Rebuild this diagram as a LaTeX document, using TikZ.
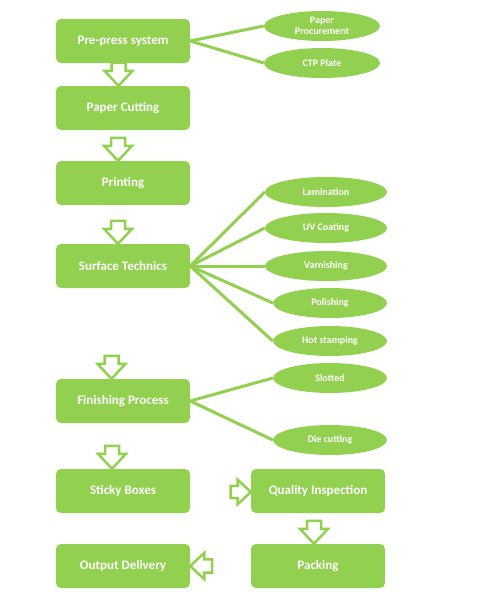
\documentclass[tikz,border=0pt]{standalone}
\usepackage{fontspec}
\setmainfont{Carlito}
\usetikzlibrary{shapes.geometric,calc,backgrounds}
\definecolor{leaf}{HTML}{92D050}

\begin{document}
\begin{tikzpicture}[x=1pt,y=1pt,
		stage/.style={fill=leaf, rounded corners=5pt, minimum width=134pt, minimum height=44pt,
			text=white, font=\bfseries\fontsize{13}{15}\selectfont},
		option/.style={ellipse, fill=leaf, inner sep=0pt, minimum height=30pt,
			text=white, align=center, font=\bfseries\fontsize{10}{11}\selectfont},
		link/.style={leaf, line width=3pt},
		hollow/.pic={\draw[leaf, line width=2.5pt, fill=white, line join=miter]
			(0,0) -- (14,15) -- (7,15) -- (7,23) -- (-7,23) -- (-7,15) -- (-14,15) -- cycle;}
	]
	
	\useasboundingbox (0,0) rectangle (496,-614);
	
	% main stages
	\node[stage] (pre) at (123,-41) {Pre-press system};
	\node[stage] (cut) at (123,-108) {Paper Cutting};
	\node[stage] (prn) at (123,-183) {Printing};
	\node[stage] (surf) at (123,-266) {Surface Technics};
	\node[stage] (fin) at (123,-401) {Finishing Process};
	\node[stage] (sticky) at (123,-491) {Sticky Boxes};
	\node[stage] (qual) at (318,-491) {Quality Inspection};
	\node[stage] (pack) at (318,-566) {Packing};
	\node[stage] (out) at (123,-566) {Output Delivery};
	
	% side options
	\node[option, minimum width=116pt] (proc) at (322,-26) {Paper\\Procurement};
	\node[option, minimum width=116pt] (ctp) at (322,-63) {CTP Plate};
	\node[option, minimum width=122pt] (lam) at (326,-192) {Lamination};
	\node[option, minimum width=122pt] (uv) at (326,-228) {UV Coating};
	\node[option, minimum width=122pt] (varn) at (326,-266) {Varnishing};
	\node[option, minimum width=114pt] (pol) at (330,-303) {Polishing};
	\node[option, minimum width=114pt] (hot) at (330,-341) {Hot stamping};
	\node[option, minimum width=114pt] (slot) at (330,-378) {Slotted};
	\node[option, minimum width=114pt] (die) at (330,-440) {Die cutting};
	
	% links to options, behind the ellipses
	\begin{scope}[on background layer]
		\fill[white] (0,0) rectangle (496,-614);
		\foreach \a/\b in {pre/proc, pre/ctp, surf/lam, surf/uv, surf/varn, surf/pol, surf/hot, fin/slot, fin/die}
		\draw[link] (\a.east) -- (\b.west);
	\end{scope}
	
	% hollow block arrows
	\pic at ($(cut.north)+(-4.5,0)$) {hollow};
	\pic at ($(prn.north)+(-5,0)$) {hollow};
	\pic at ($(surf.north)+(-5,0)$) {hollow};
	\pic at ($(fin.north)+(-11.5,0)$) {hollow};
	\pic at ($(sticky.north)+(-11,0)$) {hollow};
	\pic[rotate=90, scale=0.88] at ($(qual.west)+(0,-1)$) {hollow};
	\pic at ($(pack.north)+(-4,0)$) {hollow};
	\pic[rotate=-90, scale=0.95] at (out.east) {hollow};
	
\end{tikzpicture}
\end{document}
